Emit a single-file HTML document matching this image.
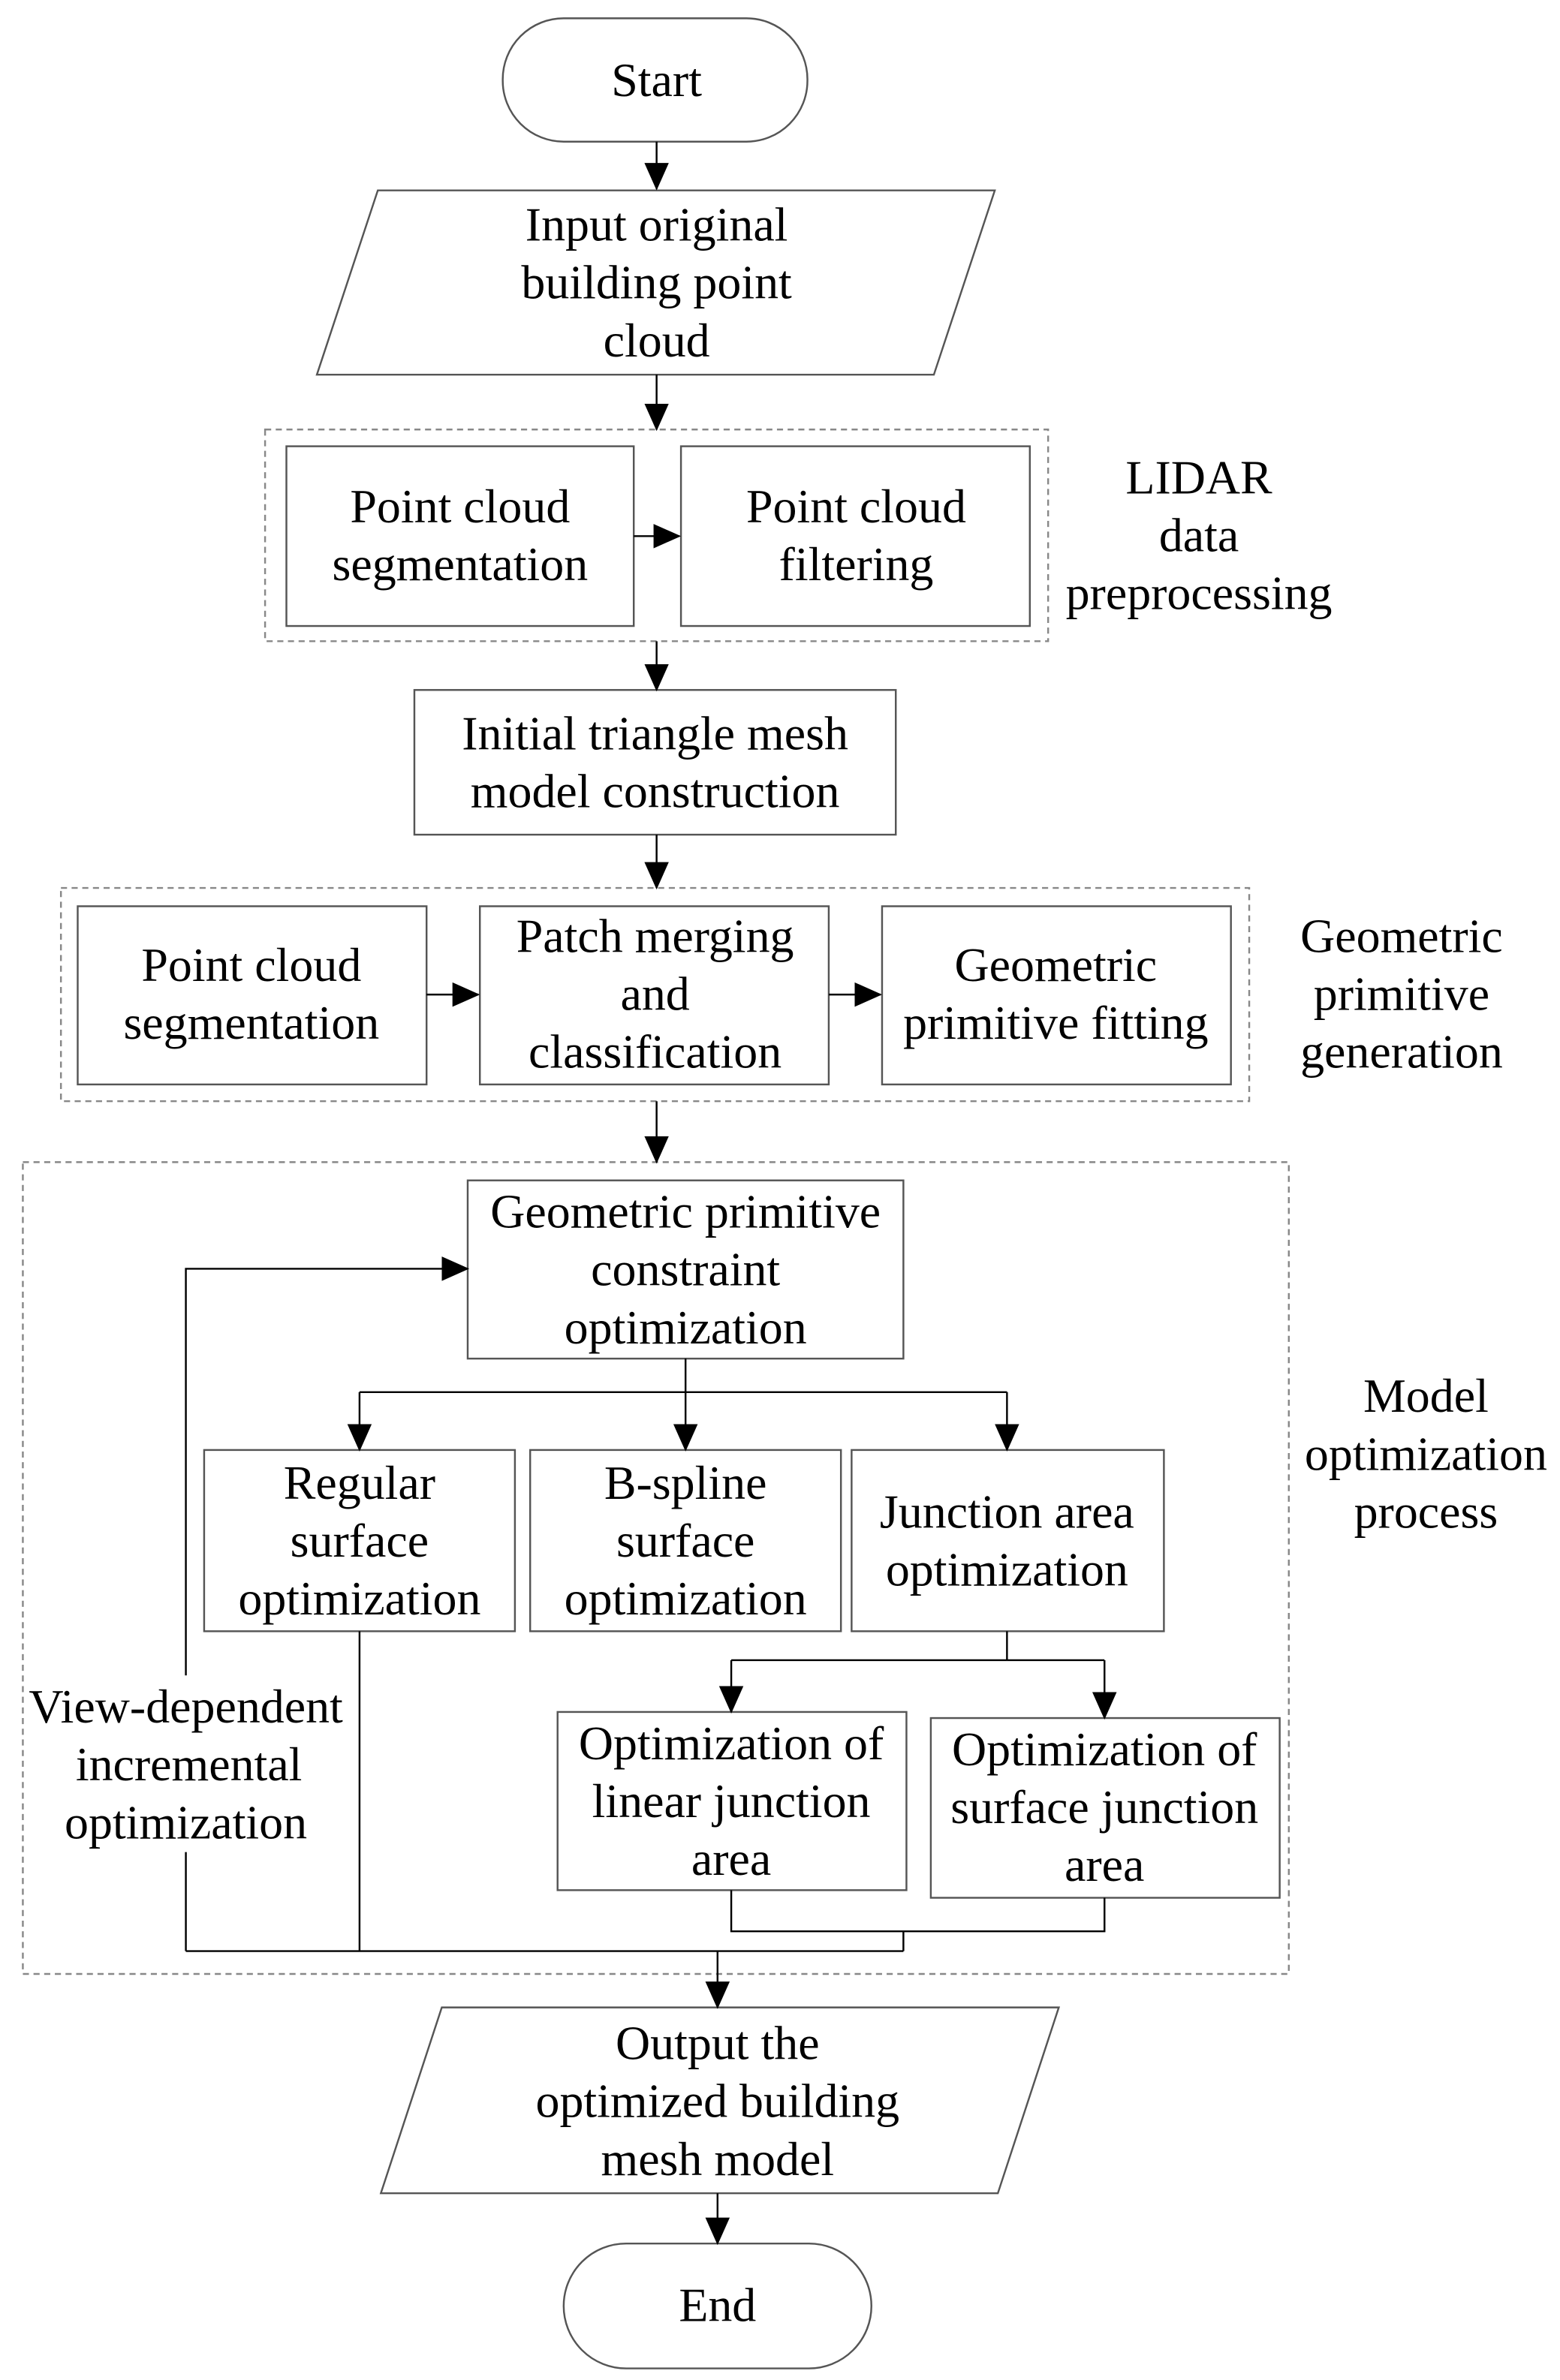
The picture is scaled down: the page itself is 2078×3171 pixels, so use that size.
<!DOCTYPE html>
<html><head><meta charset="utf-8"><style>html,body{margin:0;padding:0;background:#fff}svg{display:block}</style></head><body>
<svg width="2078" height="3171" viewBox="0 0 1024 1562.6" xmlns="http://www.w3.org/2000/svg">
<defs>
<marker id="b" markerWidth="18" markerHeight="16" refX="17" refY="8" orient="auto" markerUnits="userSpaceOnUse" viewBox="0 0 18 16"><path d="M0,0 L18,8 L0,16 z" fill="#000"/></marker></defs>
<g fill="none" stroke="#555" stroke-width="1.2">
<rect x="330" y="12" width="200" height="81" rx="40"/>
<polygon points="248,125 653,125 613,246 208,246"/>
<rect x="188" y="293" width="228" height="118"/>
<rect x="447" y="293" width="229" height="118"/>
<rect x="272" y="453" width="316" height="95"/>
<rect x="51" y="595" width="229" height="117"/>
<rect x="315" y="595" width="229" height="117"/>
<rect x="579" y="595" width="229" height="117"/>
<rect x="307" y="775" width="286" height="117"/>
<rect x="134" y="952" width="204" height="119"/>
<rect x="348" y="952" width="204" height="119"/>
<rect x="559" y="952" width="205" height="119"/>
<rect x="366" y="1124" width="229" height="117"/>
<rect x="611" y="1128" width="229" height="118"/>
<polygon points="290,1318 695,1318 655,1440 250,1440"/>
<rect x="370" y="1473" width="202" height="82" rx="41"/>
</g>
<g fill="none" stroke="#888" stroke-width="1.2" stroke-dasharray="4,3">
<rect x="174" y="282" width="514" height="139"/>
<rect x="40" y="583" width="780" height="140"/>
<rect x="15" y="763" width="831" height="533"/>
</g>
<g stroke="#000" stroke-width="1.2" fill="none" marker-end="url(#b)">
<line x1="431" y1="93" x2="431" y2="124"/>
<line x1="431" y1="246" x2="431" y2="282"/>
<line x1="416" y1="352" x2="446" y2="352"/>
<line x1="431" y1="421" x2="431" y2="453"/>
<line x1="431" y1="548" x2="431" y2="583"/>
<line x1="280" y1="653" x2="314" y2="653"/>
<line x1="544" y1="653" x2="578" y2="653"/>
<line x1="431" y1="723" x2="431" y2="763"/>
<line x1="236" y1="914" x2="236" y2="952"/>
<line x1="450" y1="892" x2="450" y2="952"/>
<line x1="661" y1="914" x2="661" y2="952"/>
<line x1="480" y1="1090" x2="480" y2="1124"/>
<line x1="725" y1="1090" x2="725" y2="1128"/>
<polyline points="122,1281 122,833 307,833"/>
<line x1="471" y1="1281" x2="471" y2="1318"/>
<line x1="471" y1="1440" x2="471" y2="1473"/>
</g>
<g stroke="#000" stroke-width="1.2" fill="none">
<line x1="236" y1="914" x2="661" y2="914"/>
<polyline points="661,1071 661,1090"/>
<line x1="480" y1="1090" x2="725" y2="1090"/>
<line x1="236" y1="1071" x2="236" y2="1281"/>
<polyline points="480,1241 480,1268 725,1268 725,1246"/>
<line x1="593" y1="1268" x2="593" y2="1281"/>
<line x1="122" y1="1281" x2="593" y2="1281"/>
</g>
<rect x="16" y="1100" width="214" height="116" fill="#fff"/>
<g font-family="Liberation Serif, serif" font-size="31.5" fill="#000" text-anchor="middle">
<text x="431" y="63">Start</text>
<text x="431" y="158">Input original</text><text x="431" y="196">building point</text><text x="431" y="234">cloud</text>
<text x="302" y="343">Point cloud</text><text x="302" y="381">segmentation</text>
<text x="562" y="343">Point cloud</text><text x="562" y="381">filtering</text>
<text x="787" y="324">LIDAR</text><text x="787" y="362">data</text><text x="787" y="400">preprocessing</text>
<text x="430" y="492">Initial triangle mesh</text><text x="430" y="530">model construction</text>
<text x="165" y="644">Point cloud</text><text x="165" y="682">segmentation</text>
<text x="430" y="625">Patch merging</text><text x="430" y="663">and</text><text x="430" y="701">classification</text>
<text x="693" y="644">Geometric</text><text x="693" y="682">primitive fitting</text>
<text x="920" y="625">Geometric</text><text x="920" y="663">primitive</text><text x="920" y="701">generation</text>
<text x="450" y="806">Geometric primitive</text><text x="450" y="844">constraint</text><text x="450" y="882">optimization</text>
<text x="236" y="984">Regular</text><text x="236" y="1022">surface</text><text x="236" y="1060">optimization</text>
<text x="450" y="984">B-spline</text><text x="450" y="1022">surface</text><text x="450" y="1060">optimization</text>
<text x="661" y="1003">Junction area</text><text x="661" y="1041">optimization</text>
<text x="480" y="1155">Optimization of</text><text x="480" y="1193">linear junction</text><text x="480" y="1231">area</text>
<text x="725" y="1159">Optimization of</text><text x="725" y="1197">surface junction</text><text x="725" y="1235">area</text>
<text x="122" y="1131">View-dependent</text><text x="124" y="1169">incremental</text><text x="122" y="1207">optimization</text>
<text x="936" y="927">Model</text><text x="936" y="965">optimization</text><text x="936" y="1003">process</text>
<text x="471" y="1352">Output the</text><text x="471" y="1390">optimized building</text><text x="471" y="1428">mesh model</text>
<text x="471" y="1524">End</text>
</g>
</svg>
</body></html>
